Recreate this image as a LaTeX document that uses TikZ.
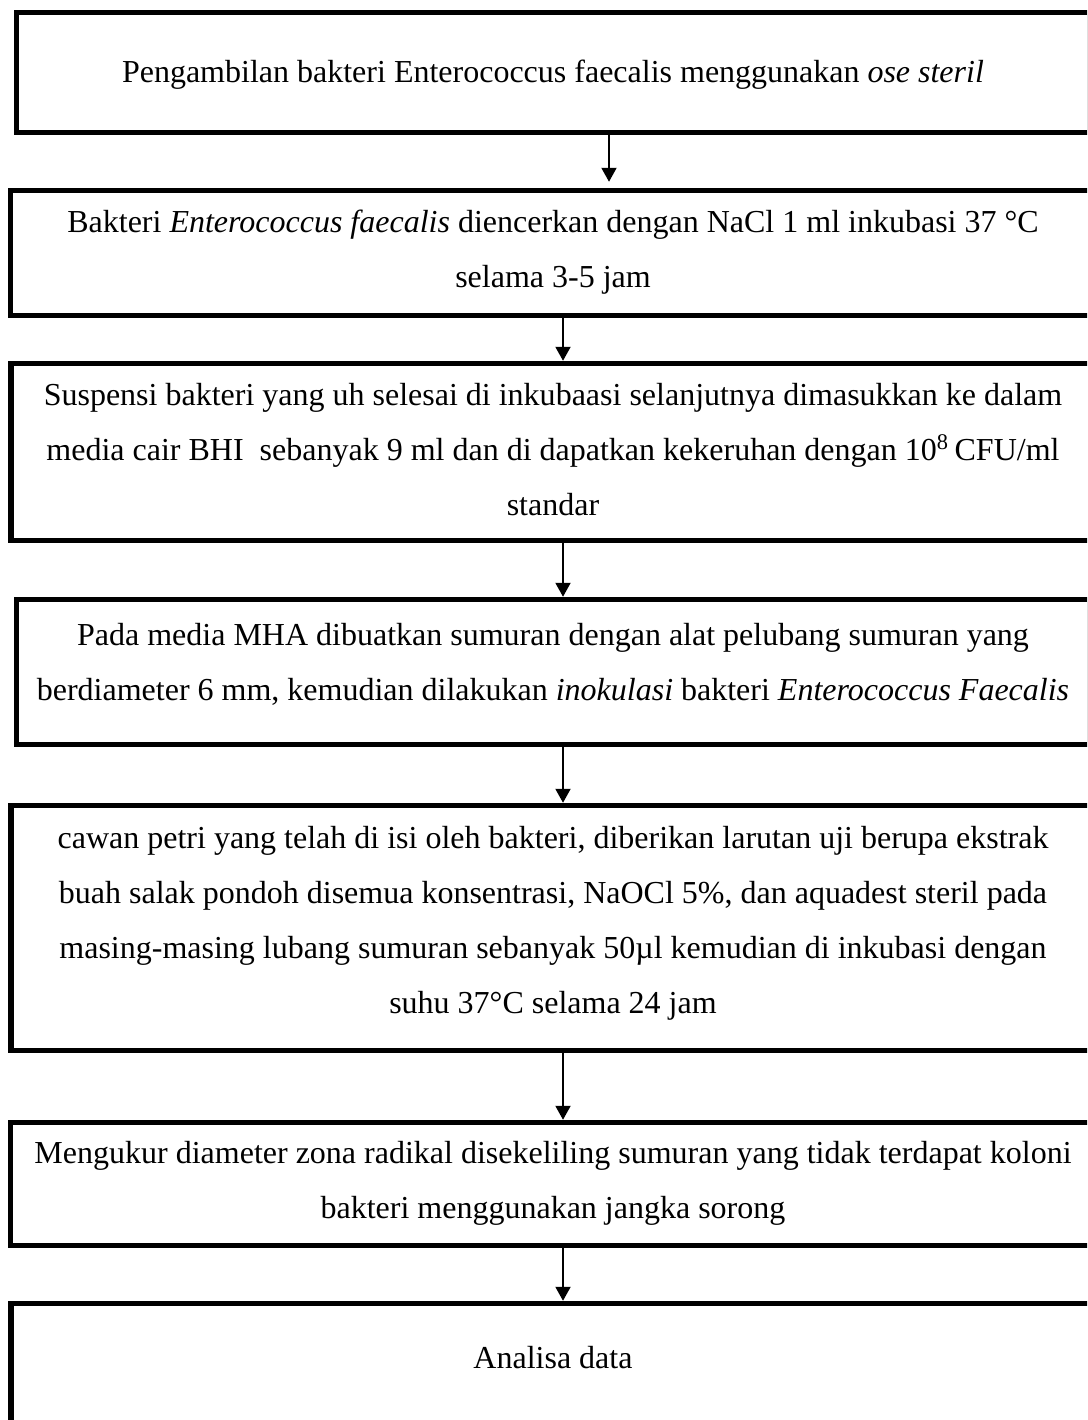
\documentclass[tikz,border=0pt]{standalone}
\usepackage{fontspec}
\setmainfont{Liberation Serif}
\usetikzlibrary{arrows.meta}
\begin{document}
\begin{tikzpicture}[x=0.4pt,y=-0.4pt,
  stepbox/.style={draw=black, line width=2.2pt, rectangle, inner sep=0pt,
    align=center, font=\fontsize{12.8}{22}\selectfont, text=black},
  arr/.style={-{Triangle[length=5.6pt,width=6pt]}, line width=0.8pt, draw=black}]
\useasboundingbox (0,0) rectangle (1087,1420);
\clip (0,0) rectangle (1087,1420);
\fill[white] (0,0) rectangle (1087,1420);

\node[stepbox, minimum width=429.2pt, minimum height=48pt, text height=8pt, text depth=0.4pt] (b1) at (553,72.5)
  {Pengambilan bakteri Enterococcus faecalis menggunakan \textit{ose steril}};
\node[stepbox, minimum width=434pt, minimum height=50pt, text height=29.2pt, text depth=2pt] (b2) at (553,253)
  {Bakteri \textit{Enterococcus faecalis} diencerkan dengan NaCl 1 ml inkubasi 37 °C\\
   selama 3-5 jam};
\node[stepbox, minimum width=433.6pt, minimum height=70.8pt, text height=52.4pt, text depth=2pt] (b3) at (553,452)
  {Suspensi bakteri yang uh selesai di inkubaasi selanjutnya dimasukkan ke dalam\\
   media cair BHI\ \ sebanyak 9 ml dan di dapatkan kekeruhan dengan 10\textsuperscript{8}\,CFU/ml\\
   standar};
\node[stepbox, minimum width=429.2pt, minimum height=58pt, text height=24.4pt, text depth=2pt] (b4) at (553,672)
  {Pada media MHA dibuatkan sumuran dengan alat pelubang sumuran yang\\
   berdiameter 6 mm, kemudian dilakukan \textit{inokulasi} bakteri \textit{Enterococcus Faecalis}};
\node[stepbox, minimum width=433.6pt, minimum height=98pt, text height=70pt, text depth=2pt] (b5) at (553,928)
  {cawan petri yang telah di isi oleh bakteri, diberikan larutan uji berupa ekstrak\\
   buah salak pondoh disemua konsentrasi, NaOCl 5\%, dan aquadest steril pada\\
   masing-masing lubang sumuran sebanyak 50µl kemudian di inkubasi dengan\\
   suhu 37°C selama 24 jam};
\node[stepbox, minimum width=434pt, minimum height=49.2pt, text height=29.2pt, text depth=2pt] (b6) at (553,1184)
  {Mengukur diameter zona radikal disekeliling sumuran yang tidak terdapat koloni\\
   bakteri menggunakan jangka sorong};
\node[stepbox, minimum width=433.6pt, minimum height=54.6pt, text height=8pt, text depth=11pt] (b7) at (553,1371.75)
  {Analisa data};

\coordinate (ax1) at (609,0);
\coordinate (ax) at (563,0);
\draw[arr, shorten >=2.4pt] (b1.south -| ax1) -- (b2.north -| ax1);
\draw[arr] (b2.south -| ax) -- (b3.north -| ax);
\draw[arr] (b3.south -| ax) -- (b4.north -| ax);
\draw[arr] (b4.south -| ax) -- (b5.north -| ax);
\draw[arr] (b5.south -| ax) -- (b6.north -| ax);
\draw[arr] (b6.south -| ax) -- (b7.north -| ax);
\end{tikzpicture}
\end{document}
